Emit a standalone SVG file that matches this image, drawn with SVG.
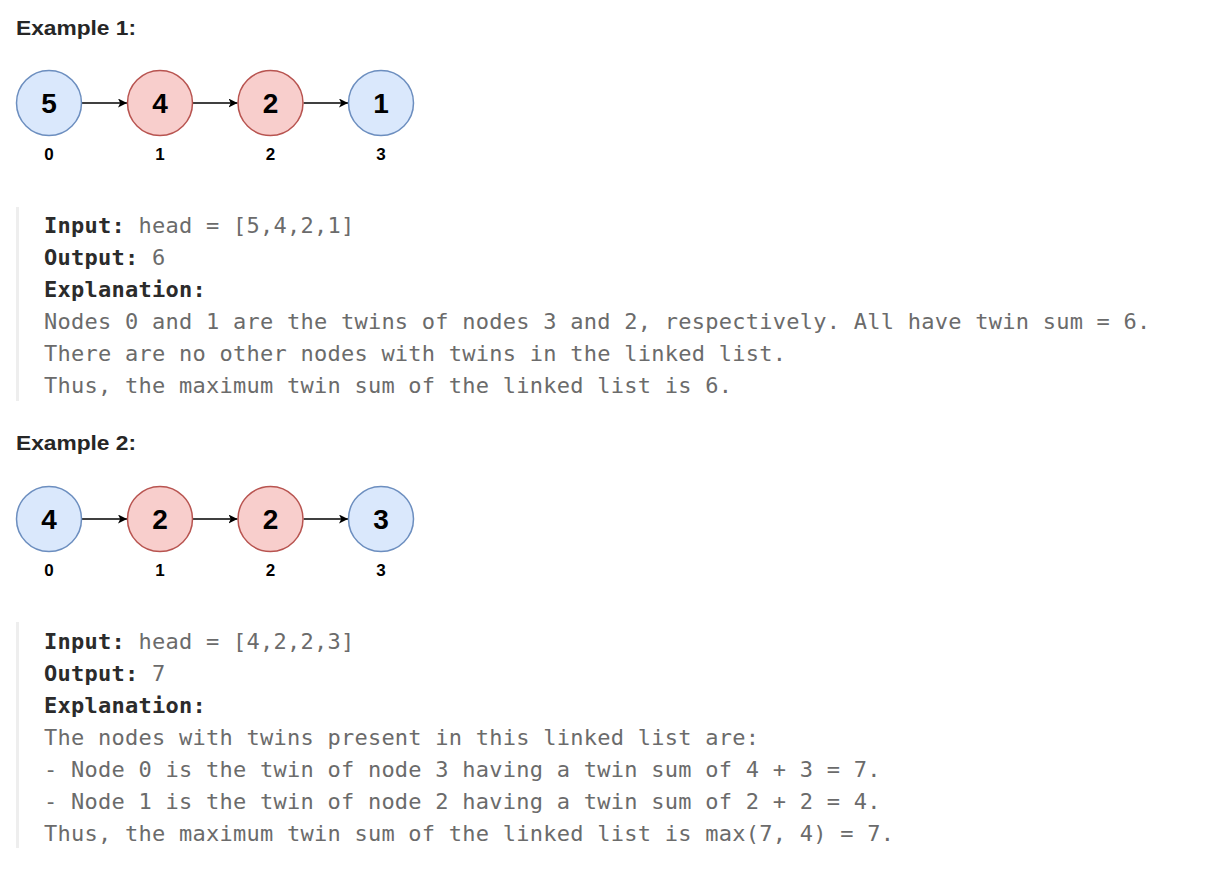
<svg xmlns="http://www.w3.org/2000/svg" width="1216" height="882" viewBox="0 0 1216 882">
<defs>
<marker id="arr" viewBox="0 0 10 10" refX="10" refY="5" markerWidth="9" markerHeight="9" markerUnits="userSpaceOnUse" orient="auto">
<path d="M0,0 L10,5 L0,10 L2.5,5 Z" fill="#000"/>
</marker>
</defs>
<style>
.title{font-family:"Liberation Sans",Arial,sans-serif;font-weight:bold;font-size:21px;fill:#262626}
.blue{fill:#dae8fc;stroke:#6c8ebf;stroke-width:1.5}
.red{fill:#f8cecc;stroke:#b85450;stroke-width:1.5}
.val{font-family:"Liberation Sans",Arial,sans-serif;font-weight:bold;font-size:28px;fill:#000;text-anchor:middle}
.idx{font-family:"Liberation Sans",Arial,sans-serif;font-weight:bold;font-size:17px;fill:#000;text-anchor:middle}
.edge{stroke:#000;stroke-width:1.3;fill:none;marker-end:url(#arr)}
.bar{fill:#eeeeee}
.mono{font-family:"DejaVu Sans Mono","Liberation Mono",monospace;font-size:22px;letter-spacing:0.25px;fill:#6b6b6b;white-space:pre}
.b{font-weight:bold;fill:#2b2b2b}
</style>
<rect width="1216" height="882" fill="#ffffff"/>

<text class="title" x="16" y="35" textLength="120" lengthAdjust="spacingAndGlyphs">Example 1:</text>

<g id="connectors1">
<line class="edge" x1="82" y1="103" x2="127" y2="103"/>
<line class="edge" x1="193" y1="103" x2="237.5" y2="103"/>
<line class="edge" x1="303.5" y1="103" x2="348" y2="103"/>
</g>
<g id="ex1-node0"><circle class="blue" cx="49" cy="103" r="32.5"/><text class="val" x="49" y="113">5</text><text class="idx" x="49" y="160">0</text></g>
<g id="ex1-node1"><circle class="red" cx="160" cy="103" r="32.5"/><text class="val" x="160" y="113">4</text><text class="idx" x="160" y="160">1</text></g>
<g id="ex1-node2"><circle class="red" cx="270.5" cy="103" r="32.5"/><text class="val" x="270.5" y="113">2</text><text class="idx" x="270.5" y="160">2</text></g>
<g id="ex1-node3"><circle class="blue" cx="381" cy="103" r="32.5"/><text class="val" x="381" y="113">1</text><text class="idx" x="381" y="160">3</text></g>

<rect class="bar" x="16" y="207" width="3" height="194"/>
<text class="mono" x="44" y="233"><tspan class="b">Input:</tspan> head = [5,4,2,1]</text>
<text class="mono" x="44" y="265"><tspan class="b">Output:</tspan> 6</text>
<text class="mono" x="44" y="297"><tspan class="b">Explanation:</tspan></text>
<text class="mono" x="44" y="329">Nodes 0 and 1 are the twins of nodes 3 and 2, respectively. All have twin sum = 6.</text>
<text class="mono" x="44" y="361">There are no other nodes with twins in the linked list.</text>
<text class="mono" x="44" y="393">Thus, the maximum twin sum of the linked list is 6.</text>

<text class="title" x="16" y="450" textLength="120" lengthAdjust="spacingAndGlyphs">Example 2:</text>

<g id="connectors2">
<line class="edge" x1="82" y1="519" x2="127" y2="519"/>
<line class="edge" x1="193" y1="519" x2="237.5" y2="519"/>
<line class="edge" x1="303.5" y1="519" x2="348" y2="519"/>
</g>
<g id="ex2-node0"><circle class="blue" cx="49" cy="519" r="32.5"/><text class="val" x="49" y="529">4</text><text class="idx" x="49" y="576">0</text></g>
<g id="ex2-node1"><circle class="red" cx="160" cy="519" r="32.5"/><text class="val" x="160" y="529">2</text><text class="idx" x="160" y="576">1</text></g>
<g id="ex2-node2"><circle class="red" cx="270.5" cy="519" r="32.5"/><text class="val" x="270.5" y="529">2</text><text class="idx" x="270.5" y="576">2</text></g>
<g id="ex2-node3"><circle class="blue" cx="381" cy="519" r="32.5"/><text class="val" x="381" y="529">3</text><text class="idx" x="381" y="576">3</text></g>

<rect class="bar" x="16" y="622" width="3" height="226"/>
<text class="mono" x="44" y="649"><tspan class="b">Input:</tspan> head = [4,2,2,3]</text>
<text class="mono" x="44" y="681"><tspan class="b">Output:</tspan> 7</text>
<text class="mono" x="44" y="713"><tspan class="b">Explanation:</tspan></text>
<text class="mono" x="44" y="745">The nodes with twins present in this linked list are:</text>
<text class="mono" x="44" y="777">- Node 0 is the twin of node 3 having a twin sum of 4 + 3 = 7.</text>
<text class="mono" x="44" y="809">- Node 1 is the twin of node 2 having a twin sum of 2 + 2 = 4.</text>
<text class="mono" x="44" y="841">Thus, the maximum twin sum of the linked list is max(7, 4) = 7.</text>

<text class="title" x="16" y="897" textLength="120" lengthAdjust="spacingAndGlyphs">Example 3:</text>
</svg>
